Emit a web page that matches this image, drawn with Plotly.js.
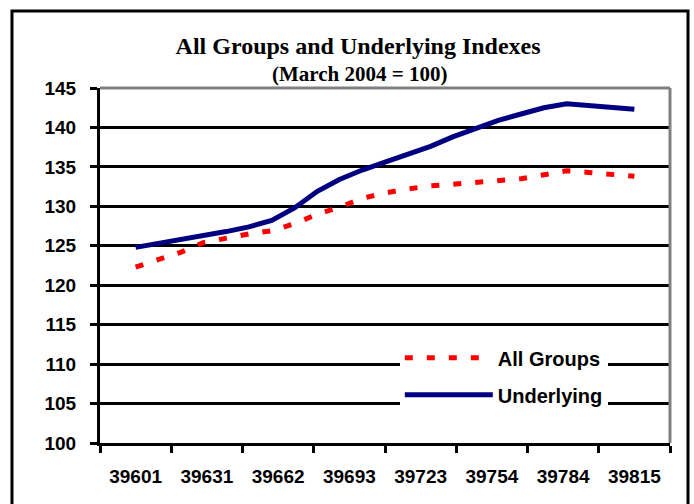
<!DOCTYPE html>
<html>
<head>
<meta charset="utf-8">
<script src="https://cdn.plot.ly/plotly-3.0.1.min.js"></script>
<style>
  html, body { margin: 0; padding: 0; background: #ffffff; }
  #chart { width: 694px; height: 504px; }
</style>
</head>
<body>
<div id="chart"></div>
<script>
// Category labels (Excel date serials as shown on the axis)
var categories = ["39601", "39631", "39662", "39693", "39723", "39754", "39784", "39815"];
// Position of each observation along the category axis (0 = first category)
var xPos = [0, 0.32, 0.64, 0.95, 1.27, 1.59, 1.91, 2.23, 2.55, 2.86, 3.18, 3.5,
            3.82, 4.14, 4.45, 4.77, 5.09, 5.41, 5.73, 6.05, 6.36, 6.68, 7.0];
// Series values
var allGroups = [122.3, 123.3, 124.2, 125.4, 126.0, 126.5, 126.9, 127.8, 129.0, 129.9, 131.0, 131.7,
                 132.2, 132.6, 132.8, 133.0, 133.3, 133.5, 134.0, 134.5, 134.3, 134.0, 133.8];
var underlying = [124.8, 125.3, 125.7, 126.2, 126.8, 127.4, 128.2, 129.8, 131.9, 133.4, 134.6, 135.6,
                  136.6, 137.6, 138.8, 139.9, 140.9, 141.7, 142.5, 143.0, 142.8, 142.5, 142.3];
var yTicks = [100, 105, 110, 115, 120, 125, 130, 135, 140, 145];

var catIdx = categories.map(function (c, i) { return i; });
var boundaries = [-0.5].concat(catIdx.map(function (i) { return i + 0.5; }));

var traces = [
  {
    x: xPos, y: allGroups, name: "All Groups", type: "scatter", mode: "lines",
    legendgroup: "a",
    line: { color: "#ff0000", width: 5, dash: "8px,14px" },
    hoverinfo: "skip"
  },
  {
    x: xPos, y: underlying, name: "Underlying", type: "scatter", mode: "lines",
    legendgroup: "b",
    line: { color: "#000080", width: 5 },
    hoverinfo: "skip"
  }
];

var tickFont = { family: "Liberation Sans, Arial, sans-serif", size: 19, color: "#000000", weight: "bold" };

var layout = {
  width: 694, height: 504,
  paper_bgcolor: "#ffffff", plot_bgcolor: "#ffffff",
  margin: { l: 100, r: 24, t: 88, b: 61, pad: 0 },
  showlegend: true,
  title: {
    text: "All Groups and Underlying Indexes",
    font: { family: "Liberation Serif, Times New Roman, serif", size: 24, color: "#000000", weight: "bold" },
    x: 0.516, xref: "container", xanchor: "center",
    y: 0.91, yref: "container", yanchor: "middle"
  },
  annotations: [{
    text: "(March 2004 = 100)",
    font: { family: "Liberation Serif, Times New Roman, serif", size: 21, color: "#000000", weight: "bold" },
    xref: "paper", yref: "paper", x: 0.456, y: 1.04, xanchor: "center", yanchor: "middle",
    showarrow: false
  }],
  xaxis: {
    range: [-0.5, 7.5],
    tickmode: "array", tickvals: catIdx, ticktext: categories,
    ticks: "", showgrid: false, zeroline: false,
    showline: true, linecolor: "#000000", linewidth: 3,
    tickfont: tickFont, ticklabelstandoff: 14,
    minor: { tickmode: "array", tickvals: boundaries, ticks: "outside", ticklen: 7, tickwidth: 3, tickcolor: "#000000", showgrid: false },
    fixedrange: true
  },
  yaxis: {
    range: [100, 145],
    tickmode: "array", tickvals: yTicks,
    ticks: "outside", ticklen: 7, tickwidth: 3, tickcolor: "#000000",
    showgrid: true, gridcolor: "#000000", gridwidth: 3,
    zeroline: false,
    showline: true, linecolor: "#000000", linewidth: 3,
    tickfont: tickFont, ticklabelstandoff: 10,
    fixedrange: true
  },
  legend: {
    x: 0.526, y: 0.295, xanchor: "left", yanchor: "top",
    bgcolor: "#ffffff", borderwidth: 0,
    itemwidth: 88, tracegroupgap: 8, traceorder: "grouped",
    font: { family: "Liberation Sans, Arial, sans-serif", size: 20, color: "#000000", weight: "bold" }
  },
  shapes: [
    // plot-area border (grey top and right edges)
    { type: "line", xref: "paper", yref: "paper", x0: 0, x1: 1, y0: 1, y1: 1, line: { color: "#808080", width: 3 }, layer: "above" },
    { type: "line", xref: "paper", yref: "paper", x0: 1, x1: 1, y0: 0, y1: 1, line: { color: "#808080", width: 3 }, layer: "above" },
    // chart-area border
    { type: "rect", xref: "paper", yref: "paper", x0: -0.1544, x1: 1.0316, y0: -0.2, y1: 1.2169, line: { color: "#000000", width: 3 }, fillcolor: "rgba(0,0,0,0)", layer: "above" }
  ]
};

Plotly.newPlot("chart", traces, layout, { staticPlot: true, displayModeBar: false });
</script>
</body>
</html>
